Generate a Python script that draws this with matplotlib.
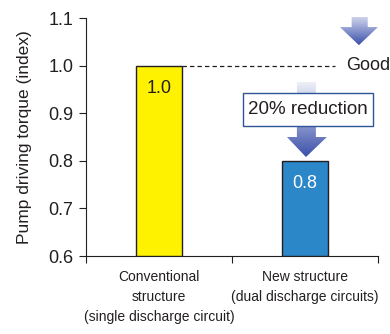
import matplotlib
matplotlib.use("Agg")
import matplotlib.pyplot as plt
import numpy as np
from matplotlib.patches import Polygon, Rectangle
from matplotlib.colors import LinearSegmentedColormap

plt.rcParams['font.family'] = ['Liberation Sans', 'DejaVu Sans']

categories = ["Conventional\nstructure\n(single discharge circuit)",
              "New structure\n(dual discharge circuits)"]
values = [1.0, 0.8]
value_labels = ["1.0", "0.8"]
bar_colors = ["#FFF200", "#2B87C8"]
label_colors = ["#231F20", "white"]
yticks = [0.6, 0.7, 0.8, 0.9, 1.0, 1.1]

fig = plt.figure(figsize=(3.9, 3.34), dpi=100)
ax = fig.add_axes([0.2205, 0.2335, 0.7485, 0.7125])
x = np.arange(len(categories))
bw = 0.31
ax.bar(x, [v - 0.6 for v in values], bottom=0.6, width=bw, color=bar_colors,
       edgecolor="#231F20", linewidth=1.0, zorder=3)
for xi, v, lab, c in zip(x, values, value_labels, label_colors):
    ax.text(xi, v - 0.047, lab, ha="center", va="center", fontsize=13, color=c, zorder=4)

ax.set_xlim(-0.5, 1.5)
ax.set_ylim(0.6, 1.1)
ax.set_yticks(yticks)
ax.set_yticklabels([f"{t:.1f}" for t in yticks], fontsize=13, color="#231F20")
ax.set_ylabel("Pump driving torque (index)", fontsize=12.5, color="#231F20", labelpad=12)
ax.set_xticks([-0.5, 0.5, 1.5])
ax.set_xticklabels([])
ax.tick_params(axis="x", length=5, direction="out", color="#231F20")
ax.tick_params(axis="y", length=5, direction="out", color="#231F20", pad=4)
for xi, lab in zip(x, categories):
    ax.text(xi, -0.06, lab, transform=ax.get_xaxis_transform(), ha="center", va="top",
            fontsize=10, color="#231F20", linespacing=1.55)
for s in ["top", "right"]:
    ax.spines[s].set_visible(False)
for s in ["left", "bottom"]:
    ax.spines[s].set_color("#231F20")

# dashed reference line and "Good"
ax.plot([0 + bw / 2, 1.205], [1.0, 1.0], ls=(0, (3.5, 2.5)), color="#231F20", lw=0.9, zorder=2)
ax.text(1.285, 1.0, "Good", ha="left", va="center", fontsize=13, color="#231F20", clip_on=False)

cmap = LinearSegmentedColormap.from_list("arr", ["#EEF0F8", "#95A1D4", "#3C50A8"])

def grad_arrow(x0, x1, sx0, sx1, tipx, ytop, yhead, ytip, z):
    pts = [(sx0, ytop), (sx1, ytop), (sx1, yhead), (x1, yhead), (tipx, ytip),
           (x0, yhead), (sx0, yhead)]
    poly = Polygon(pts, closed=True, facecolor="none", edgecolor="none",
                   transform=ax.transData)
    ax.add_patch(poly)
    grad = np.linspace(0, 1, 256).reshape(-1, 1)
    im = ax.imshow(grad, cmap=cmap, aspect="auto", extent=[x0, x1, ytip, ytop],
                   origin="upper", zorder=z)
    im.set_clip_path(poly)
    im.set_clip_box(None)

grad_arrow(1.24, 1.50, 1.32, 1.43, 1.37, 1.1126, 1.081, 1.043, 5)
grad_arrow(0.877, 1.15, 0.945, 1.075, 1.007, 0.9655, 0.850, 0.808, 5)
ax.set_xlim(-0.5, 1.5)
ax.set_ylim(0.6, 1.1)

box = Rectangle((0.575, 0.873), 1.466 - 0.575, 0.942 - 0.873, facecolor="white",
                edgecolor="#2F5597", linewidth=1.0, zorder=6, clip_on=False)
ax.add_patch(box)
ax.text((0.575 + 1.466) / 2, (0.873 + 0.942) / 2, "20% reduction", ha="center",
        va="center", fontsize=13.5, color="#231F20", zorder=7)

fig.savefig("out.png", dpi=100)
